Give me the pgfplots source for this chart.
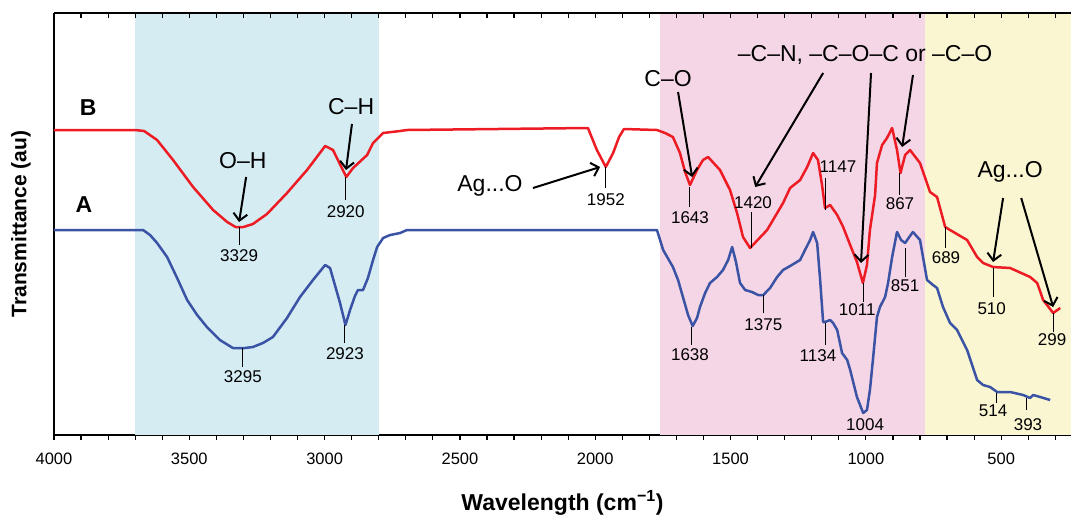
\documentclass[border=0pt]{standalone}
\usepackage{fontspec}
\setmainfont{Liberation Sans}
\usepackage{pgfplots}
\pgfplotsset{compat=1.18}
\usetikzlibrary{arrows.meta}

\definecolor{curveB}{RGB}{237,28,36}
\definecolor{curveA}{RGB}{58,83,164}
\definecolor{bandblue}{RGB}{213,236,243}
\definecolor{bandpink}{RGB}{245,214,230}
\definecolor{bandyellow}{RGB}{250,246,210}

\newcommand{\pkfont}{\fontsize{17}{19}\selectfont}
\newcommand{\anfont}{\fontsize{23}{26}\selectfont}
% peak marker: line x, top, bottom, text x, text y, label
\newcommand{\pk}[6]{%
  \draw[line width=1pt] (axis cs:#1,#2) -- (axis cs:#1,#3);
  \node[font=\pkfont, inner sep=0pt] at (axis cs:#4,#5) {#6};}
\newcommand{\arr}[4]{%
  \draw[line width=2pt, -{Straight Barb[length=7pt,width=14pt]}]
    (axis cs:#1,#2) -- (axis cs:#3,#4);}

\begin{document}
\begin{tikzpicture}
\begin{axis}[
    width=1017pt, height=422pt, scale only axis,
    xmin=242, xmax=4000, x dir=reverse,
    ymin=13, ymax=435, y dir=reverse,
    axis x line*=bottom, axis y line*=left,
    ytick=\empty,
    xtick={500,1000,...,4000},
    minor xtick={300,400,...,3900},
    tick align=outside,
    major tick length=5pt, minor tick length=5pt,
    tick style={black, line width=1.2pt},
    axis line style={black, line width=1.6pt},
    xticklabel style={font=\fontsize{16.5}{18}\selectfont, yshift=-9pt},
    /pgf/number format/assume math mode=true,
    /pgf/number format/1000 sep={},
    xlabel={Wavelength (cm\textsuperscript{\char"2212 1})},
    ylabel={Transmittance (au)},
    xlabel style={font=\fontsize{23}{26}\selectfont\bfseries, at={(axis description cs:0.5,-0.161)}, anchor=center},
    ylabel style={font=\fontsize{21}{24}\selectfont\bfseries, at={(axis description cs:-0.0325,0.5)}, anchor=center},
    clip=false,
]
% bands
\fill[bandblue] (axis cs:3700,13) rectangle (axis cs:2800,435);
\fill[bandpink] (axis cs:1760,13) rectangle (axis cs:780,435);
\fill[bandyellow] (axis cs:780,13) rectangle (axis cs:242,435);

% B (red)
\addplot[curveB, line width=2.5pt, line join=round] coordinates {
(4000,130) (3701,130) (3667,131) (3619,140) (3560,160) (3486,187) (3412,210)
(3360,222) (3329,227) (3300,227) (3265,224) (3213,214) (3139,193) (3065,170) (2998,146)
(2969,150) (2920,177) (2895,168) (2843,155) (2821,143) (2784,133) (2721,131)
(2696,130) (2027,128) (1994,150) (1961,167) (1934,153) (1912,137) (1894,129)
(1772,130) (1742,133) (1713,137) (1687,153) (1668,172) (1650,185) (1624,170)
(1602,160) (1583,157) (1539,170) (1502,190) (1476,213) (1454,237) (1428,248)
(1365,230) (1306,203) (1280,188) (1243,180) (1217,167) (1195,153) (1177,160)
(1162,185) (1151,208) (1132,205) (1106,215) (1084,227) (1058,245) (1033,262)
(1011,283) (996,265) (985,230) (966,195) (959,163) (940,145) (922,138)
(903,128) (885,150) (872,173) (855,155) (837,150) (800,163) (763,192)
(737,197) (707,227) (689,230) (626,240) (589,257) (567,263) (530,267)
(467,268) (393,277) (367,283) (345,300) (308,313) (282,308)
};

% A (blue)
\addplot[curveA, line width=2.5pt, line join=round] coordinates {
(4000,230) (3671,230) (3645,235) (3619,243) (3582,257) (3545,278) (3508,300)
(3471,315) (3435,327) (3387,340) (3339,348) (3295,348) (3265,347) (3228,343)
(3191,337) (3139,318) (3091,297) (3043,280) (2998,265) (2980,268) (2962,285)
(2943,303) (2923,325) (2906,310) (2888,296) (2877,290) (2858,290) (2840,278)
(2821,260) (2806,247) (2784,238) (2758,235) (2721,233) (2696,230) (1772,230)
(1749,250) (1713,267) (1694,280) (1676,297) (1657,315) (1640,326) (1624,318)
(1613,307) (1594,293) (1576,283) (1550,277) (1528,270) (1509,260) (1494,247)
(1480,262) (1465,283) (1446,290) (1421,292) (1398,295) (1379,295) (1354,288)
(1328,277) (1306,270) (1280,266) (1243,260) (1225,250) (1206,240) (1195,232)
(1180,243) (1169,280) (1158,322) (1151,322) (1132,320) (1121,323) (1106,330)
(1088,353) (1069,360) (1058,370) (1033,397) (1010,413) (996,410) (985,390)
(973,357) (959,317) (948,307) (929,297) (918,283) (903,257) (885,232)
(870,240) (855,243) (837,236) (826,232) (800,240) (774,280) (752,285)
(737,288) (715,307) (689,323) (663,330) (626,350) (589,380) (567,385)
(541,387) (515,392) (467,392) (419,395) (393,398) (382,395) (356,397) (319,400)
};

% labels B
\node[font=\fontsize{23}{26}\selectfont\bfseries] at (axis cs:3874,108) {B};
\node[font=\fontsize{23}{26}\selectfont\bfseries] at (axis cs:3889,205) {A};

\pk{3316}{227}{245}{3316}{256}{3329}
\pk{2922}{177}{200}{2922}{212}{2920}
\pk{1961}{167}{188}{1961}{200}{1952}
\pk{1650}{187}{207}{1650}{218}{1643}
\pk{1424}{212}{248}{1417}{203}{1420}
\pk{1151}{178}{210}{1103}{167}{1147}
\pk{874}{173}{195}{874}{204}{867}
\pk{704}{227}{248}{704}{258}{689}
\pk{1010}{283}{302}{1032}{310}{1011}
\pk{528}{268}{297}{535}{309}{510}
\pk{306}{313}{332}{312}{340}{299}

% labels A
\pk{3302}{348}{367}{3302}{377}{3295}
\pk{2925}{325}{343}{2925}{354}{2923}
\pk{1643}{327}{345}{1650}{355}{1638}
\pk{1379}{295}{313}{1379}{325}{1375}
\pk{1151}{323}{345}{1177}{356}{1134}
\node[font=\pkfont, inner sep=0pt] at (axis cs:1003,425) {1004};
\pk{855}{248}{277}{855}{286}{851}
\pk{519}{393}{403}{530}{411}{514}
\pk{408}{398}{410}{401}{425}{393}

% group annotations
\node[font=\anfont] at (axis cs:3302,161) {O–H};
\arr{3290}{177}{3316}{222}
\node[font=\anfont] at (axis cs:2902,107) {C–H};
\arr{2899}{124}{2921}{170}
\node[font=\anfont] at (axis cs:2389,186) {Ag...O};
\arr{2230}{188}{1982}{167}
\node[font=\anfont] at (axis cs:1731,79) {C–O};
\arr{1694}{92}{1642}{177}
\node[font=\anfont] at (axis cs:1003,55) {–C–N, –C–O–C or –C–O};
\arr{1158}{73}{1409}{187}
\arr{981}{73}{1018}{263}
\arr{826}{75}{866}{147}
\node[font=\anfont] at (axis cs:467,172) {Ag...O};
\arr{493}{198}{530}{262}
\arr{426}{198}{308}{307}
\end{axis}

\begin{axis}[
    width=1017pt, height=422pt, scale only axis,
    xmin=242, xmax=4000, x dir=reverse,
    ymin=13, ymax=435,
    axis x line*=top, axis y line=none,
    xtick={500,1000,...,4000},
    minor xtick={300,400,...,3900},
    xticklabels={},
    tick align=inside,
    major tick length=5pt, minor tick length=5pt,
    tick style={black, line width=1.2pt},
    axis line style={black, line width=1.6pt},
]
\end{axis}

\pgfresetboundingbox
\path[use as bounding box] ([xshift=-54pt,yshift=-80pt]current axis.south west) rectangle ++(1071pt,515pt);
\end{tikzpicture}
\end{document}
